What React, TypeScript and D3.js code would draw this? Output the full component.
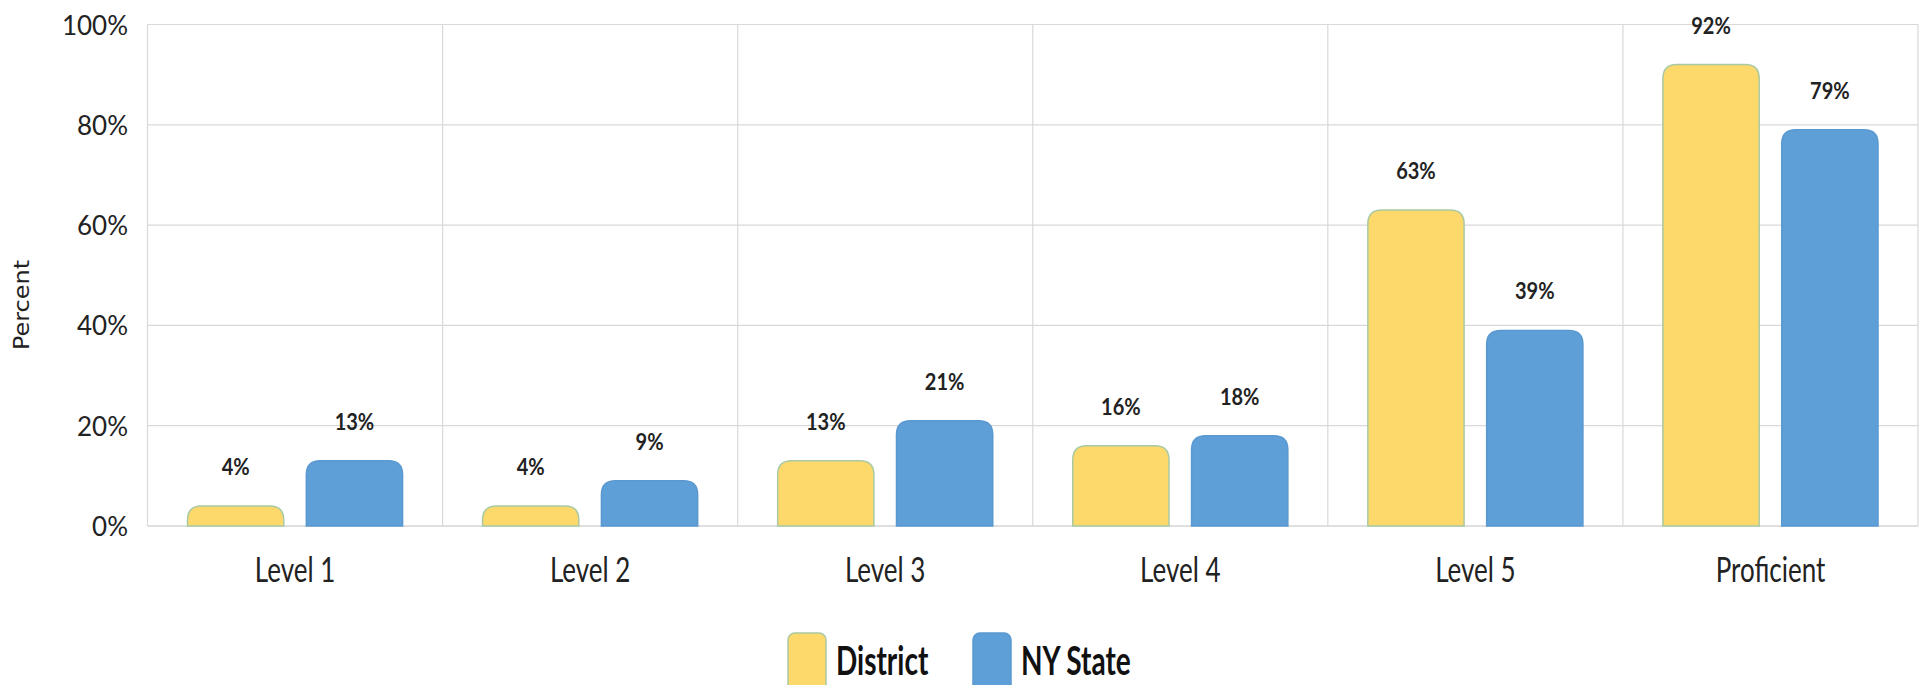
import * as d3 from "d3";
import { useEffect } from "react";

const categories = ["Level 1", "Level 2", "Level 3", "Level 4", "Level 5", "Proficient"];
const seriesNames = ["District", "NY State"];
const districtValues = [4, 4, 13, 16, 63, 92];
const nyStateValues = [13, 9, 21, 18, 39, 79];
const yTicks = [0, 20, 40, 60, 80, 100];

const width = 1927;
const height = 685;
const marginLeft = 147.5;
const marginRight = 9;
const yTop = 24.5;
const yBottom = 526;

const fills = ["#FDD96C", "#5F9FD8"];
const strokes = ["#A9C9A4", "#5A98D0"];

function topRoundedBar(x, y0, w, yTopPx, r) {
  const h = y0 - yTopPx;
  const rr = Math.min(r, h, w / 2);
  return `M${x},${y0} L${x},${yTopPx + rr} Q${x},${yTopPx} ${x + rr},${yTopPx} L${x + w - rr},${yTopPx} Q${x + w},${yTopPx} ${x + w},${yTopPx + rr} L${x + w},${y0} Z`;
}

export default function App() {
  useEffect(() => {
    document.body.style.margin = "0";
  }, []);

  const x0 = d3.scaleBand(categories, [marginLeft, width - marginRight]).padding(0);
  const x1 = d3
    .scaleBand(seriesNames, [40, x0.bandwidth() - 40])
    .paddingInner(0.19);
  const y = d3.scaleLinear([0, 100], [yBottom, yTop]);

  const rows = categories.map((c, i) => ({
    category: c,
    values: [districtValues[i], nyStateValues[i]],
  }));

  return (
    <svg width={width} height={height} style={{ display: "block" }}>
      <rect width={width} height={height} fill="#fff" />
      {/* grid */}
      <g stroke="#D9D9D9" strokeWidth={1.2}>
        {yTicks.map((t) => (
          <line key={t} x1={marginLeft} x2={width - marginRight} y1={y(t)} y2={y(t)} stroke={t === 0 ? "#BFBFBF" : "#D9D9D9"} />
        ))}
        {categories.map((c) => (
          <line key={c} x1={x0(c)} x2={x0(c)} y1={yTop} y2={yBottom} />
        ))}
        <line x1={width - marginRight} x2={width - marginRight} y1={yTop} y2={yBottom} />
      </g>
      {/* y tick labels */}
      <g fontFamily="Lato, sans-serif" fontSize={26} fill="#222" textAnchor="end">
        {yTicks.map((t) => (
          <text key={t} x={128} y={y(t) + 10}>{`${t}%`}</text>
        ))}
      </g>
      <text
        transform="translate(29,305) rotate(-90)"
        textAnchor="middle"
        fontFamily="DejaVu Sans, sans-serif"
        fontSize={22}
        textLength={90}
        lengthAdjust="spacingAndGlyphs"
        fill="#222"
      >
        Percent
      </text>
      {/* bars */}
      {rows.map((row) => (
        <g key={row.category} transform={`translate(${x0(row.category)},0)`}>
          {row.values.map((v, j) => {
            const bx = x1(seriesNames[j]);
            const bw = x1.bandwidth();
            return (
              <g key={j}>
                <path
                  d={topRoundedBar(bx, y(0), bw, y(v), 14)}
                  fill={fills[j]}
                  stroke={strokes[j]}
                  strokeWidth={1.5}
                />
                <text
                  transform={`translate(${bx + bw / 2},${y(v) - 31}) scale(1,1.16)`}
                  textAnchor="middle"
                  fontFamily="Lato, sans-serif"
                  fontWeight="bold"
                  fontSize={20}
                  fill="#222"
                >
                  {`${v}%`}
                </text>
              </g>
            );
          })}
          <text
            transform={`translate(${x0.bandwidth() / 2},582) scale(1,1.3)`}
            textAnchor="middle"
            fontFamily="Lato, sans-serif"
            fontSize={26}
            fill="#222"
          >
            {row.category}
          </text>
        </g>
      ))}
      {/* legend */}
      <g fontFamily="Lato, sans-serif" fontWeight="bold" fontSize={28} fill="#111">
        {seriesNames.map((s, j) => {
          const lx = [788, 973][j];
          return (
            <g key={s}>
              <rect x={lx} y={633} width={38} height={58} rx={7} fill={fills[j]} stroke={strokes[j]} strokeWidth={1.5} />
              <text transform={`translate(${lx + 48},675) scale(1,1.4)`}>{s}</text>
            </g>
          );
        })}
      </g>
    </svg>
  );
}
